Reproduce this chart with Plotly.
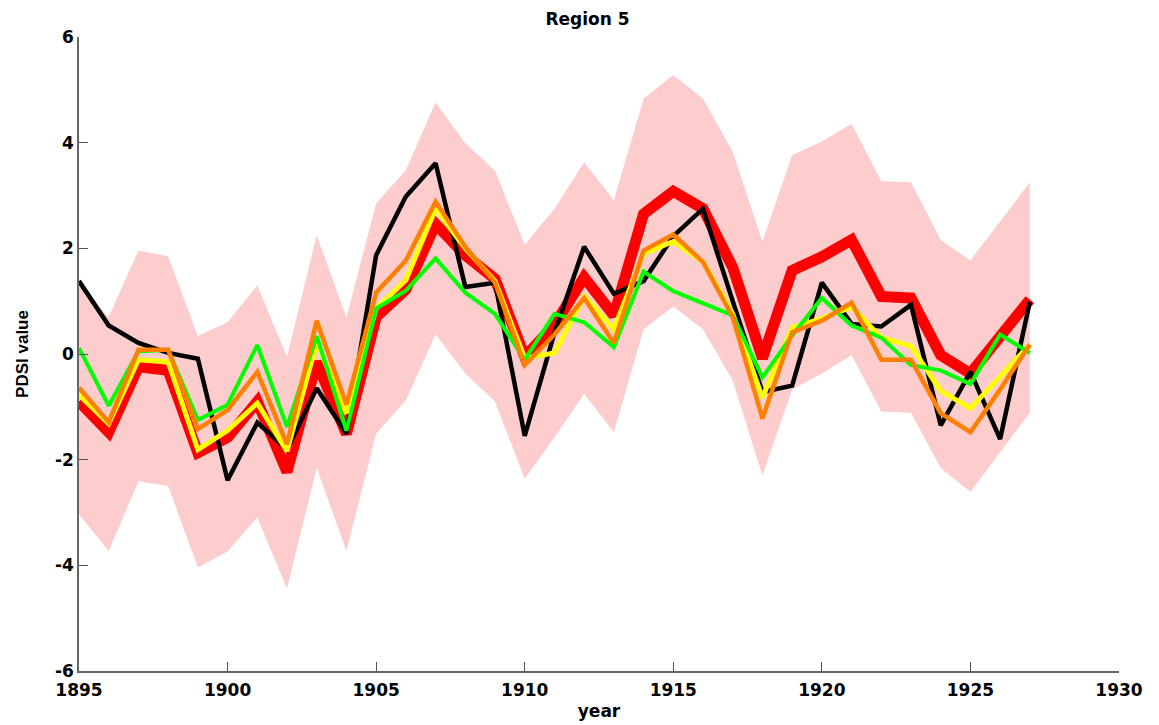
import plotly.graph_objects as go

years = list(range(1895, 1928))

band_upper = [1.29, 0.70, 1.96, 1.85, 0.34, 0.60, 1.30, -0.05, 2.25, 0.69, 2.85, 3.48,
              4.76, 3.99, 3.47, 2.07, 2.75, 3.63, 2.91, 4.83, 5.28, 4.83, 3.83, 2.13,
              3.76, 4.02, 4.36, 3.27, 3.25, 2.16, 1.77, 2.52, 3.25]
band_lower = [-3.04, -3.73, -2.41, -2.50, -4.04, -3.74, -3.09, -4.44, -2.16, -3.73, -1.51, -0.88,
              0.37, -0.37, -0.90, -2.36, -1.58, -0.75, -1.48, 0.47, 0.90, 0.47, -0.50, -2.30,
              -0.67, -0.37, -0.02, -1.09, -1.11, -2.16, -2.61, -1.87, -1.11]

red = [-0.90, -1.48, -0.24, -0.31, -1.87, -1.58, -0.90, -2.23, -0.15, -1.51, 0.70, 1.22,
       2.46, 1.87, 1.42, -0.05, 0.55, 1.45, 0.73, 2.65, 3.08, 2.75, 1.64, -0.08,
       1.58, 1.84, 2.16, 1.09, 1.06, -0.02, -0.37, 0.37, 1.03]
black = [1.38, 0.54, 0.21, 0.02, -0.09, -2.39, -1.30, -1.81, -0.65, -1.51, 1.87, 2.98,
         3.61, 1.27, 1.35, -1.55, 0.40, 2.03, 1.14, 1.38, 2.23, 2.75, 1.00, -0.72,
         -0.60, 1.35, 0.57, 0.52, 0.93, -1.35, -0.34, -1.61, 0.99]
yellow = [-0.77, -1.32, -0.11, -0.15, -1.81, -1.45, -0.93, -1.84, 0.22, -1.12, 0.86, 1.40,
          2.75, 2.00, 1.38, -0.08, 0.02, 1.09, 0.47, 1.90, 2.13, 1.74, 0.76, -0.83,
          0.50, 0.67, 0.89, 0.31, 0.15, -0.70, -1.03, -0.41, 0.18]
green = [0.11, -0.98, 0.05, 0.08, -1.25, -0.96, 0.17, -1.38, 0.34, -1.45, 0.86, 1.20,
         1.81, 1.16, 0.76, -0.11, 0.76, 0.60, 0.13, 1.56, 1.19, 0.96, 0.73, -0.44,
         0.35, 1.06, 0.54, 0.31, -0.21, -0.31, -0.57, 0.37, 0.02]
orange = [-0.64, -1.29, 0.08, 0.08, -1.42, -1.06, -0.34, -1.71, 0.63, -0.96, 1.16, 1.77,
          2.88, 2.03, 1.35, -0.21, 0.37, 1.06, 0.21, 1.96, 2.26, 1.74, 0.70, -1.22,
          0.41, 0.63, 0.97, -0.11, -0.11, -1.12, -1.48, -0.67, 0.18]

x_ticks = [1895, 1900, 1905, 1910, 1915, 1920, 1925, 1930]
y_ticks = [-6, -4, -2, 0, 2, 4, 6]

FONT = "DejaVu Sans, Liberation Sans, Arial, sans-serif"
FONT2 = "Liberation Sans, Arial, sans-serif"

fig = go.Figure()
fig.add_trace(go.Scatter(x=years + years[::-1], y=band_upper + band_lower[::-1],
                         fill="toself", fillcolor="#FDCCCC", line=dict(width=0),
                         mode="lines", hoverinfo="skip", showlegend=False))
fig.add_trace(go.Scatter(x=years, y=red, mode="lines",
                         line=dict(color="#FF0000", width=11), showlegend=False))
fig.add_trace(go.Scatter(x=years, y=black, mode="lines",
                         line=dict(color="#000000", width=4.5), showlegend=False))
fig.add_trace(go.Scatter(x=years, y=yellow, mode="lines",
                         line=dict(color="#FFFF00", width=5), showlegend=False))
fig.add_trace(go.Scatter(x=years, y=green, mode="lines",
                         line=dict(color="#00FF00", width=4), showlegend=False))
fig.add_trace(go.Scatter(x=years, y=orange, mode="lines",
                         line=dict(color="#FF8000", width=4.5), showlegend=False))

fig.update_layout(
    width=1159, height=725,
    margin=dict(l=71, r=48, t=29, b=62, autoexpand=False),
    plot_bgcolor="white", paper_bgcolor="white",
    font=dict(family=FONT, color="black"),
    title=dict(text="Region 5", x=0.5, xanchor="center", y=0.985, yanchor="middle",
               font=dict(family=FONT, size=17, weight="bold")),
    xaxis=dict(range=[1895, 1930], tickvals=x_ticks, ticktext=[str(t) for t in x_ticks],
               ticks="inside", ticklen=9, tickcolor="#555", showgrid=False, zeroline=False,
               showline=True, linecolor="#666", linewidth=1.5, ticklabelstandoff=3,
               tickfont=dict(size=17, weight="bold"),
               title=dict(text="year", font=dict(family=FONT, size=17, weight="bold"), standoff=6)),
    yaxis=dict(range=[-6, 6], tickvals=y_ticks, ticktext=[str(t) for t in y_ticks],
               ticks="inside", ticklen=9, tickcolor="#555",
               showgrid=False, zeroline=False, showline=True, linecolor="#666", linewidth=1.5,
               tickfont=dict(size=17, weight="bold"),
               title=dict(text="PDSI value", font=dict(family=FONT2, size=17, weight="bold"), standoff=22)),
)

fig.write_html("out.html")
